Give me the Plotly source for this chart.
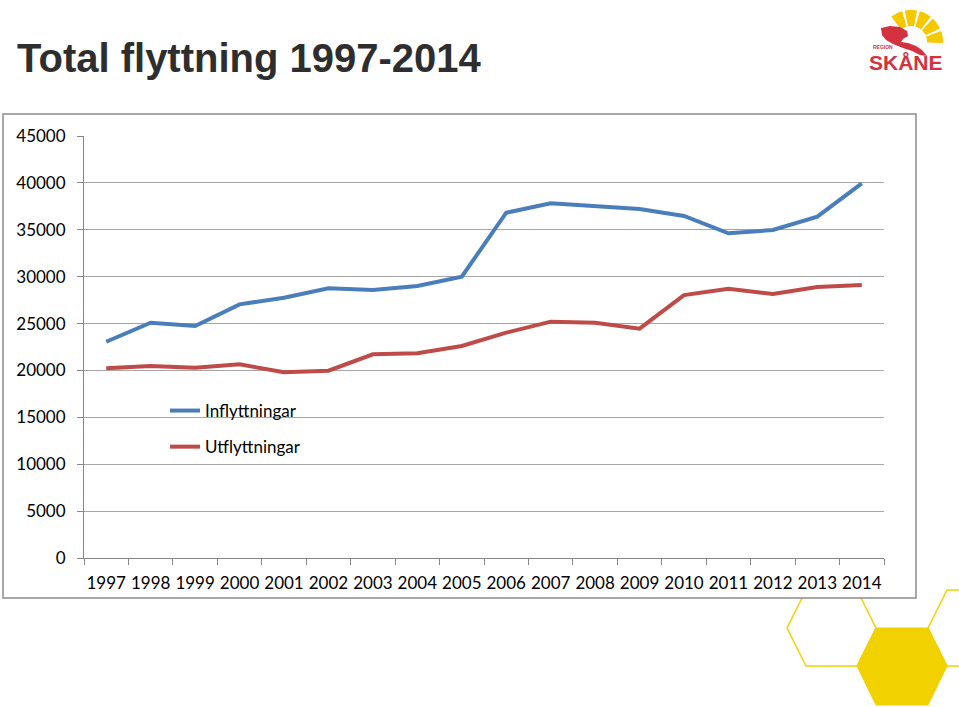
import math
import plotly.graph_objects as go

years = [str(y) for y in range(1997, 2015)]
inflyttningar = [23060, 25090, 24740, 27050, 27760, 28760, 28580, 29000, 30000,
                 36820, 37820, 37530, 37210, 36470, 34620, 34980, 36400, 39950]
utflyttningar = [20230, 20470, 20290, 20650, 19800, 19970, 21720, 21830, 22610,
                 24030, 25200, 25090, 24450, 28040, 28720, 28150, 28900, 29110]
y_ticks = [0, 5000, 10000, 15000, 20000, 25000, 30000, 35000, 40000, 45000]

W, H = 959, 707
L, R, T, B = 84, 884, 136, 558


def X(px):
    return (px - L) / (R - L)


def Y(py):
    return (B - py) / (B - T)


def path(points, close=True):
    s = "M" + " L".join(f"{X(a):.5f},{Y(b):.5f}" for a, b in points)
    return s + (" Z" if close else "")


fig = go.Figure()
fig.add_trace(go.Scatter(x=years, y=inflyttningar, mode="lines", name="Inflyttningar",
                         line=dict(color="#4a7ebb", width=4), legendgroup="a"))
fig.add_trace(go.Scatter(x=years, y=utflyttningar, mode="lines", name="Utflyttningar",
                         line=dict(color="#be4b48", width=4), legendgroup="b"))

shapes = []
yellow = "#f2d100"
# hexagons (behind the chart box)
hex_left = [(876, 628), (857, 666), (806, 666), (787, 628), (806, 590), (857, 590)]
hex_fill = [(857, 666), (876, 628), (928, 628), (947, 666), (928, 705), (876, 705)]
hex_right = [(928, 628), (947, 666), (998, 666), (1017, 628), (998, 590), (947, 590)]
shapes.append(dict(type="path", path=path(hex_left), xref="paper", yref="paper",
                   line=dict(color=yellow, width=1.5), fillcolor="rgba(0,0,0,0)", layer="below"))
shapes.append(dict(type="path", path=path(hex_right), xref="paper", yref="paper",
                   line=dict(color=yellow, width=1.5), fillcolor="rgba(0,0,0,0)", layer="below"))
shapes.append(dict(type="path", path=path(hex_fill), xref="paper", yref="paper",
                   line=dict(color=yellow, width=1), fillcolor=yellow, layer="below"))
# chart box
shapes.append(dict(type="rect", xref="paper", yref="paper", x0=X(3), x1=X(916), y0=Y(598), y1=Y(114),
                   line=dict(color="#8c8c8c", width=1.5), fillcolor="white", layer="below"))

# logo: yellow ring segments
cx, cy = 911, 42
r_in, r_out = 16, 32
starts = [128, 101, 74, 47, 20]
for a0 in starts:
    a1 = a0 - 22
    pts = []
    for k in range(7):
        a = math.radians(a0 + (a1 - a0) * k / 6)
        pts.append((cx + r_out * math.cos(a), cy - r_out * math.sin(a)))
    for k in range(7):
        a = math.radians(a1 + (a0 - a1) * k / 6)
        pts.append((cx + r_in * math.cos(a), cy - r_in * math.sin(a)))
    shapes.append(dict(type="path", path=path(pts), xref="paper", yref="paper",
                       line=dict(width=0), fillcolor="#f5c800", layer="above"))
# logo: red griffin-like swoosh
red_pts = [(881, 28), (890, 26), (900, 27), (907, 31), (908, 36), (903, 39), (901, 42),
           (908, 43), (916, 46), (922, 50), (927, 56), (920, 55), (912, 51), (903, 48),
           (893, 44), (886, 40), (882, 35)]
shapes.append(dict(type="path", path=path(red_pts), xref="paper", yref="paper",
                   line=dict(width=0), fillcolor="#d3323e", layer="above"))

annotations = [
    dict(text="<b>Total flyttning 1997-2014</b>", x=X(15), y=Y(58), xref="paper", yref="paper",
         xanchor="left", yanchor="middle", showarrow=False,
         font=dict(family="Liberation Sans Narrow, Arial Narrow, Liberation Sans, sans-serif",
                   size=40, color="#2e2e2e")),
    dict(text="<b>REGION</b>", x=X(871), y=Y(47), xref="paper", yref="paper",
         xanchor="left", yanchor="middle", showarrow=False,
         font=dict(family="Liberation Sans, Arial", size=5, color="#d3323e")),
    dict(text="<b>SKÅNE</b>", x=X(906), y=Y(63), xref="paper", yref="paper",
         xanchor="center", yanchor="middle", showarrow=False,
         font=dict(family="Liberation Sans Narrow, Arial Narrow, Liberation Sans, sans-serif",
                   size=21, color="#d3323e")),
]

axis_font = dict(family="Lato, Carlito, Calibri, sans-serif", size=17, color="black")
fig.update_layout(
    width=W, height=H,
    margin=dict(l=L, r=W - R, t=T, b=H - B, pad=0),
    paper_bgcolor="white", plot_bgcolor="rgba(0,0,0,0)",
    shapes=shapes, annotations=annotations,
    showlegend=True,
    legend=dict(x=X(165), y=Y(393), xanchor="left", yanchor="top",
                font=dict(family="Lato, Carlito, Calibri, sans-serif", size=17, color="black"),
                bgcolor="rgba(0,0,0,0)", traceorder="grouped", tracegroupgap=11),
    xaxis=dict(type="category", categoryarray=years, range=[-0.5, len(years) - 0.5],
               tickson="boundaries", ticks="outside",
               ticklen=6, tickcolor="#868686", showline=True, linecolor="#868686", linewidth=1,
               showgrid=False, tickfont=axis_font, tickangle=0, ticklabelstandoff=10,
               fixedrange=True),
    yaxis=dict(range=[0, 45000], tickvals=y_ticks, ticktext=[str(v) for v in y_ticks],
               ticks="outside", ticklen=6, tickcolor="#868686", showline=True,
               linecolor="#868686", linewidth=1, showgrid=True, gridcolor="#a6a6a6", gridwidth=1,
               zeroline=False, tickfont=axis_font, ticklabelstandoff=8, fixedrange=True),
)

fig.write_html("out.html", config={"displayModeBar": False},
               post_script="document.body.style.margin='0px';")
